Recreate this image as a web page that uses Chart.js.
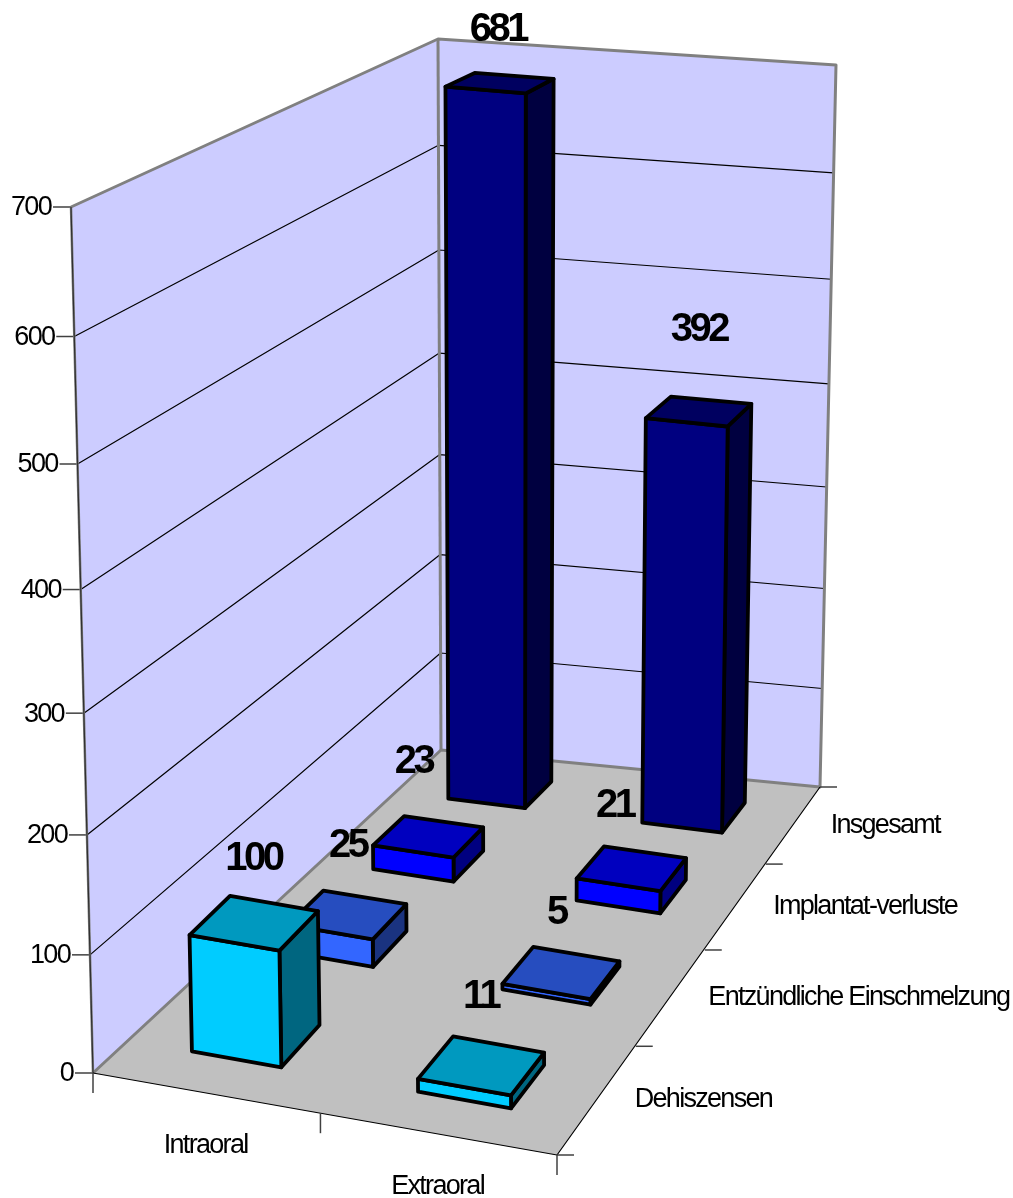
<!DOCTYPE html>
<html>
<head>
<meta charset="utf-8">
<style>
  html, body { margin: 0; padding: 0; background: #fff; }
  canvas { display: block; }
</style>
<script src="https://cdn.jsdelivr.net/npm/chart.js@4"></script>
</head>
<body>
<canvas id="implantChart" width="1013" height="1198"></canvas>
<script>
var categories = ['Intraoral', 'Extraoral'];
var depthLabels = ['Dehiszensen', 'Entzündliche Einschmelzung', 'Implantat-verluste', 'Insgesamt'];
var dehiszensen = [100, 11];
var einschmelzung = [25, 5];
var implantatVerluste = [23, 21];
var insgesamt = [681, 392];
var seriesColors = ['#00ccff', '#3366ff', '#0000ff', '#000080'];

// nudges for the value labels in px, [series][category]
var labelNudge = [
  [[-1, -64], [-1, -69]],
  [[0, -68], [-5, -60]],
  [[-15, -74], [-17, -62]],
  [[-2, -53], [0, -81]]
];

var barShare = 0.4;   // part of a category band taken by a bar, both ways

// box outline in px, corners in the order front-left, front-right, back-right, back-left
var floorCorners = [[93, 1073], [557, 1155], [820, 787], [441, 750]];
var ceilCorners = [[71, 207], [554, 275], [836, 65], [438, 39]];
// foreshortening along each axis, depth is handled apart for px x and px y
var bendX = 1.04, bendY = 1.055, bendZAcross = 0.78, bendZLeft = 0.7, bendZRight = 0.795;

function bend(t, k) {
  return t / (t + k * (1 - t));
}

function planeAxis(corners, c, x, z) {
  var front = corners[0][c] + (corners[1][c] - corners[0][c]) * x;
  var back = corners[3][c] + (corners[2][c] - corners[3][c]) * x;
  return front + (back - front) * z;
}

function project(x, y, z) {
  var sx = bend(x, bendX), t = bend(y, bendY);
  var szPx = bend(z, bendZAcross);
  var szPy = bend(z, bendZLeft + (bendZRight - bendZLeft) * x);
  var ax = planeAxis(floorCorners, 0, sx, szPx), bx = planeAxis(ceilCorners, 0, sx, szPx);
  var ay = planeAxis(floorCorners, 1, sx, szPy), by = planeAxis(ceilCorners, 1, sx, szPy);
  return [ax + (bx - ax) * t, ay + (by - ay) * t];
}

function shade(hex, f) {
  var n = parseInt(hex.slice(1), 16);
  return 'rgb(' + Math.round((n >> 16) * f) + ',' + Math.round(((n >> 8) & 255) * f) + ',' + Math.round((n & 255) * f) + ')';
}

function poly(ctx, pts, fill, stroke, lw) {
  ctx.beginPath();
  pts.forEach(function(p, i) {
    if (i === 0) ctx.moveTo(p[0], p[1]); else ctx.lineTo(p[0], p[1]);
  });
  if (fill) {
    ctx.closePath();
    ctx.fillStyle = fill;
    ctx.fill();
  }
  if (stroke) {
    ctx.strokeStyle = stroke;
    ctx.lineWidth = lw;
    ctx.stroke();
  }
}

function text(ctx, str, x, y, font, spacing, align) {
  ctx.font = font;
  ctx.letterSpacing = spacing;
  ctx.textAlign = align;
  ctx.textBaseline = 'middle';
  ctx.fillStyle = '#000';
  ctx.fillText(str, x, y);
}

var tickFont = "27px 'Liberation Sans'";
var valueFont = "bold 40px 'Liberation Sans'";

// the scales stay hidden, their fractions get pushed through the projection
var box3d = {
  id: 'box3d',
  beforeDatasetsDraw: function(chart) {
    var ctx = chart.ctx;
    var xs = chart.scales.x, ys = chart.scales.y, zs = chart.scales.z;
    var fx = function(i) { return (xs.getPixelForValue(i) - xs.left) / xs.width; };
    var fz = function(i) { return (zs.getPixelForValue(i) - zs.left) / zs.width; };
    var fy = function(v) { return (ys.bottom - ys.getPixelForValue(v)) / ys.height; };
    var halfX = barShare / categories.length / 2;
    var halfZ = barShare / depthLabels.length / 2;

    ctx.save();
    ctx.lineJoin = 'round';

    // walls and floor
    poly(ctx, [project(0, 0, 0), project(0, 1, 0), project(0, 1, 1), project(0, 0, 1)], '#ccccff');
    poly(ctx, [project(0, 0, 1), project(0, 1, 1), project(1, 1, 1), project(1, 0, 1)], '#ccccff');
    poly(ctx, [project(0, 0, 0), project(1, 0, 0), project(1, 0, 1), project(0, 0, 1)], '#c0c0c0');

    // gridlines on both walls plus value ticks
    ys.ticks.forEach(function(t) {
      var f = fy(t.value);
      var a = project(0, f, 0), b = project(0, f, 1), c = project(1, f, 1);
      if (f > 0 && f < 1) poly(ctx, [a, b, c], null, '#000', 1.2);
      poly(ctx, [[a[0] - 18, a[1]], a], null, '#404040', 1.5);
      text(ctx, t.label, a[0] - 20, a[1] + 1, tickFont, '-1.7px', 'right');
    });

    // box edges
    poly(ctx, [project(0, 0, 0), project(0, 0, 1), project(1, 0, 1), project(1, 1, 1), project(0, 1, 1), project(0, 1, 0)], null, '#808080', 3);
    poly(ctx, [project(0, 0, 1), project(0, 1, 1)], null, '#808080', 3);
    poly(ctx, [project(0, 1, 0), project(0, 0, 0)], null, '#808080', 2.5);
    poly(ctx, [project(0, 1, 0), project(0, 0, 0)], null, '#303030', 1.2);
    poly(ctx, [project(0, 0, 0), project(1, 0, 0), project(1, 0, 1)], null, '#000', 1.2);

    // category ticks along the front edge
    for (var i = 0; i <= categories.length; i++) {
      var p = project(i / categories.length, 0, 0);
      poly(ctx, [p, [p[0], p[1] + 20]], null, '#404040', 1.5);
    }
    // depth ticks along the right edge
    for (var j = 0; j <= depthLabels.length; j++) {
      var q = project(1, 0, j / depthLabels.length);
      poly(ctx, [q, [q[0] + 17, q[1]]], null, '#404040', 1.5);
    }

    categories.forEach(function(label, i) {
      var p = project(fx(i), 0, 0);
      text(ctx, label, p[0], p[1] + 53, tickFont, '-1.7px', 'center');
    });
    depthLabels.forEach(function(label, j) {
      var p = project(1, 0, fz(j));
      text(ctx, label, p[0] + 37, p[1] + 1, tickFont, '-1.7px', 'left');
    });

    // cuboids, back row first
    var labels = [];
    for (var d = chart.data.datasets.length - 1; d >= 0; d--) {
      var ds = chart.data.datasets[d];
      ds.data.forEach(function(v, i) {
        var x0 = fx(i) - halfX, x1 = fx(i) + halfX;
        var z0 = fz(d) - halfZ, z1 = fz(d) + halfZ;
        var h = fy(v);
        var front = ds.backgroundColor;
        poly(ctx, [project(x1, 0, z0), project(x1, 0, z1), project(x1, h, z1), project(x1, h, z0)], shade(front, 0.5), '#000', 3.8);
        poly(ctx, [project(x0, 0, z0), project(x1, 0, z0), project(x1, h, z0), project(x0, h, z0)], front, '#000', 3.8);
        poly(ctx, [project(x0, h, z0), project(x1, h, z0), project(x1, h, z1), project(x0, h, z1)], shade(front, 0.75), '#000', 3.8);
        var top = project(fx(i), h, fz(d));
        var nudge = labelNudge[d][i];
        labels.push([String(v), top[0] + nudge[0], top[1] + nudge[1]]);
      });
    }
    labels.forEach(function(l) {
      text(ctx, l[0], l[1], l[2], valueFont, '-3.5px', 'center');
    });

    ctx.restore();
    return false;
  }
};

var datasets = [dehiszensen, einschmelzung, implantatVerluste, insgesamt].map(function(values, i) {
  return { label: depthLabels[i], data: values, backgroundColor: seriesColors[i] };
});

var ctx = document.getElementById('implantChart').getContext('2d');
var implantChart = new Chart(ctx, {
  type: 'bar',
  plugins: [box3d],
  data: {
    labels: categories,
    datasets: datasets
  },
  options: {
    responsive: false,
    animation: false,
    events: [],
    layout: { padding: 0 },
    plugins: {
      legend: { display: false },
      tooltip: { enabled: false }
    },
    scales: {
      x: { type: 'category', display: false, offset: true },
      z: { type: 'category', position: 'bottom', axis: 'x', display: false, offset: true, labels: depthLabels },
      y: { type: 'linear', display: false, min: 0, max: 700, ticks: { stepSize: 100 } }
    }
  }
});
</script>
</body>
</html>
